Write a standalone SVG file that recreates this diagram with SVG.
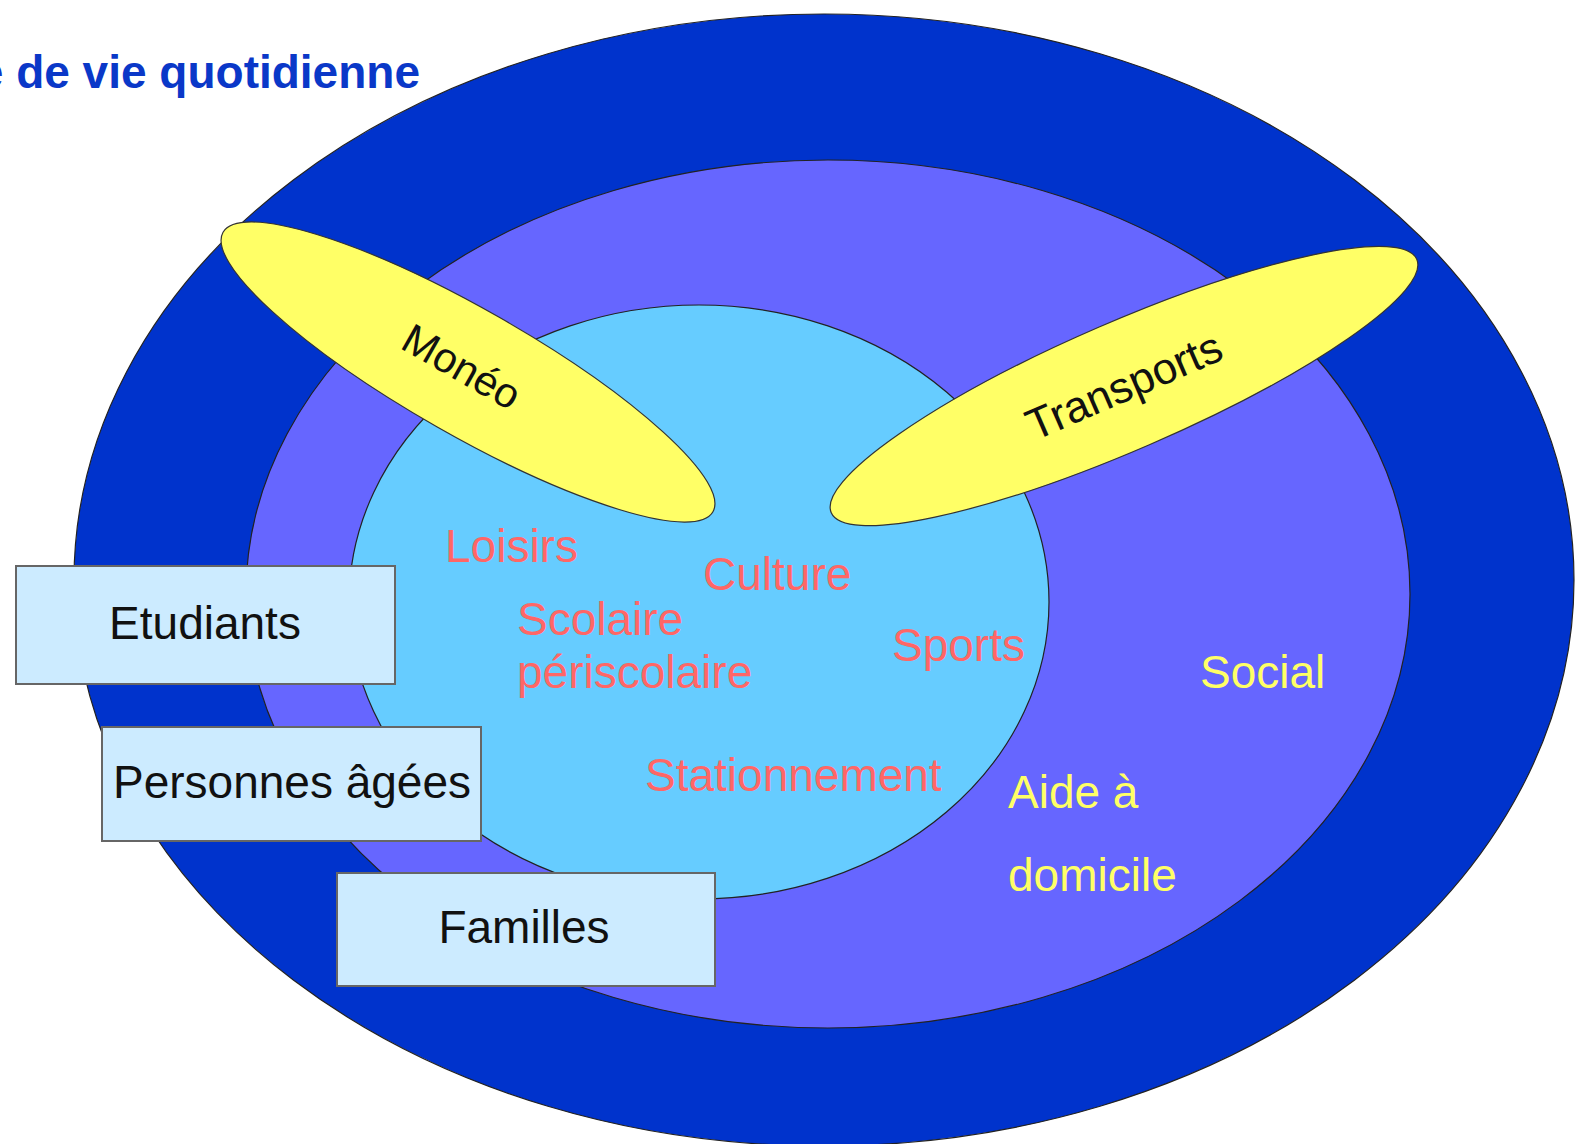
<svg xmlns="http://www.w3.org/2000/svg" width="1575" height="1144" viewBox="0 0 1575 1144">
<style>
.ring{stroke:#222;stroke-width:1.2}
.yel{fill:#FFFF66;stroke:#333;stroke-width:1.2}
.box{fill:#CCEBFF;stroke:#666;stroke-width:2}
.t{font-family:"Liberation Sans",Arial,sans-serif;font-size:46px}
.blk{fill:#111}
.red{fill:#FF6666}
.ylw{fill:#FFFF66}
.title{font-family:"Liberation Sans",Arial,sans-serif;font-size:46px;font-weight:bold;fill:#0A38C8}
</style>
<rect width="1575" height="1144" fill="#ffffff"/>
<text class="title" x="420" y="88" text-anchor="end">e de vie quotidienne</text>
<g id="outer"><ellipse class="ring" cx="824" cy="580" rx="750" ry="566" fill="#0033CC"/></g>
<g id="middle"><ellipse class="ring" cx="828" cy="594" rx="582" ry="434" fill="#6666FF"/>
<text class="t ylw" x="1200" y="688">Social</text>
<text class="t ylw" x="1008" y="808">Aide à</text>
<text class="t ylw" x="1008" y="891">domicile</text></g>
<g id="inner"><ellipse class="ring" cx="699" cy="602" rx="350" ry="297" fill="#66CCFF"/>
<text class="t red" x="445" y="562">Loisirs</text>
<text class="t red" x="703" y="590">Culture</text>
<text class="t red" x="517" y="635">Scolaire</text>
<text class="t red" x="517" y="688">périscolaire</text>
<text class="t red" x="892" y="661">Sports</text>
<text class="t red" x="645" y="791">Stationnement</text></g>
<g id="moneo" transform="translate(468,372) rotate(29.7)"><ellipse class="yel" cx="0" cy="0" rx="282" ry="63"/>
<text class="t blk" x="-8" y="13" text-anchor="middle" style="font-size:42px">Monéo</text></g>
<g id="transports" transform="translate(1124,386) rotate(-23.4)"><ellipse class="yel" cx="0" cy="0" rx="319" ry="64"/>
<text class="t blk" x="0" y="15" text-anchor="middle" style="font-size:44px">Transports</text></g>
<g id="etudiants"><rect class="box" x="16" y="566" width="379" height="118"/>
<text class="t blk" x="205" y="639" text-anchor="middle">Etudiants</text></g>
<g id="personnes"><rect class="box" x="102" y="727" width="379" height="114"/>
<text class="t blk" x="292" y="798" text-anchor="middle">Personnes âgées</text></g>
<g id="familles"><rect class="box" x="337" y="873" width="378" height="113"/>
<text class="t blk" x="524" y="943" text-anchor="middle">Familles</text></g>
<g id="connectors"></g>
</svg>
